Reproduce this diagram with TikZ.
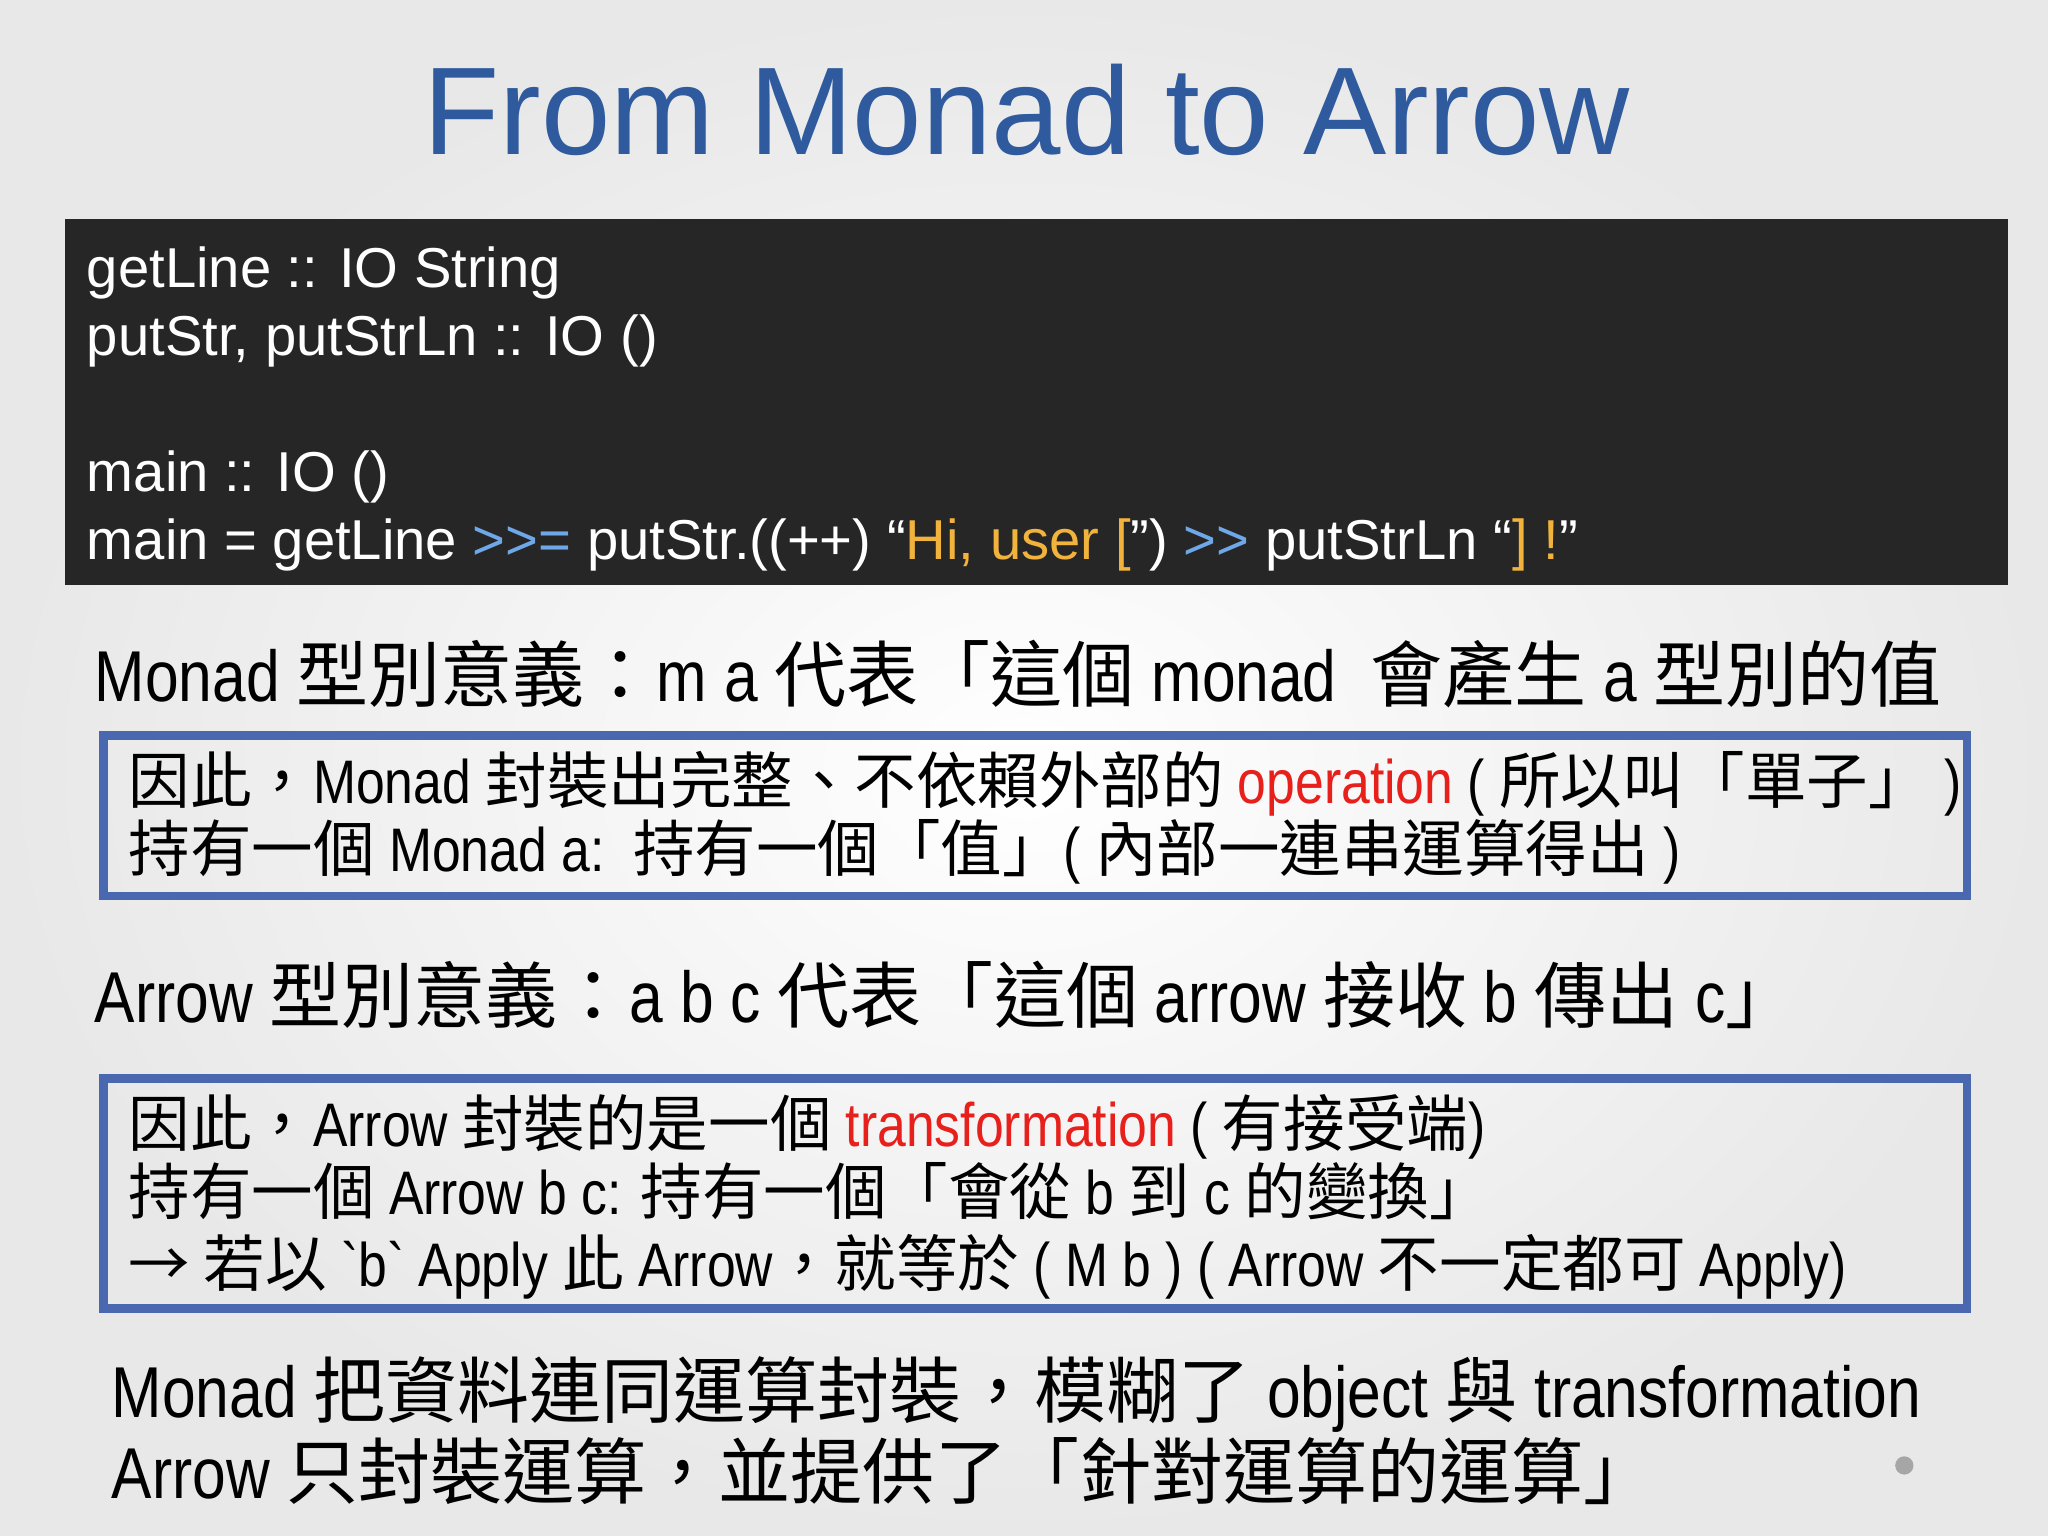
\documentclass[tikz,border=0pt]{standalone}
\usepackage{fontspec}
\setmainfont{Liberation Sans}
\newfontfamily\bodyfont[FakeStretch=0.84]{Liberation Sans}
\newfontfamily\cjk{Noto Sans CJK TC}
\newcommand\C[1]{{\cjk #1}}
\definecolor{bx}{HTML}{4A68B0}
\definecolor{codebg}{HTML}{262626}
\definecolor{cblue}{HTML}{6FA8E8}
\definecolor{cyel}{HTML}{F2B33D}
\definecolor{tblue}{HTML}{2F5B9E}
\definecolor{red1}{HTML}{E8201C}
\begin{document}
\begin{tikzpicture}[x=0.01306cm,y=-0.01306cm,
  code/.style={anchor=base west,text=white,font=\fontsize{16pt}{20pt}\selectfont,inner sep=0},
  big/.style={anchor=base west,font=\bodyfont\fontsize{20.5pt}{24pt}\selectfont,inner sep=0},
  mid/.style={anchor=base west,font=\bodyfont\fontsize{17.5pt}{21pt}\selectfont,inner sep=0},
  frame/.style={draw=bx,line width=2.5pt}]
\shade[inner color=white,outer color=gray!18] (0,0) rectangle (1568,1176);
\useasboundingbox (0,0) rectangle (1568,1176);
\node[anchor=base,text=tblue,font=\fontsize{35.5pt}{40pt}\selectfont,inner sep=0] (title) at (786,118) {From Monad to Arrow};
\fill[codebg] (50,168) rectangle (1537,448);
\node[code] (c1) at (66,220) {getLine :: IO String};
\node[code] (c2) at (66,272) {putStr, putStrLn :: IO ()};
\node[code] (c3) at (66,376) {main :: IO ()};
\node[code] (c4) at (66,428) {main = getLine \textcolor{cblue}{>{}>{}=} putStr.((++) “\textcolor{cyel}{Hi, user [}”) \textcolor{cblue}{>{}>} putStrLn “\textcolor{cyel}{] !}”};
\node[big] (m1) at (72,537) {Monad \C{型別意義：}m a \C{代表「這個} monad\ \ \C{會產生} a \C{型別的值}};
\draw[frame] (79,563) rectangle (1506,686);
\node[mid] (b1) at (98,615) {\C{因此，}Monad \C{封裝出完整、不依賴外部的} \textcolor{red1}{operation} ( \C{所以叫「單子」} )};
\node[mid] (b2) at (98,667) {\C{持有一個} Monad a:\ \ \C{持有一個「值」}( \C{內部一連串運算得出} )};
\node[big] (a1) at (72,783) {Arrow \C{型別意義：}a b c \C{代表「這個} arrow \C{接收} b \C{傳出} c\C{」}};
\draw[frame] (79,826) rectangle (1506,1002);
\node[mid] (d1) at (98,878) {\C{因此，}Arrow \C{封裝的是一個} \textcolor{red1}{transformation} ( \C{有接受端})};
\node[mid] (d2) at (98,930) {\C{持有一個} Arrow b c: \C{持有一個「會從} b \C{到} c \C{的變換」}};
\node[mid] (d3) at (98,985) {\C{→ 若以} \symbol{96}b\symbol{96} Apply \C{此} Arrow\C{，就等於} ( M b ) ( Arrow \C{不一定都可} Apply)};
\node[big] (e1) at (85,1085) {Monad \C{把資料連同運算封裝，模糊了} object \C{與} transformation};
\node[big] (e2) at (85,1147) {Arrow \C{只封裝運算，並提供了「針對運算的運算」}};
\fill[gray!70] (1458,1122) circle (7);
\end{tikzpicture}
\end{document}
